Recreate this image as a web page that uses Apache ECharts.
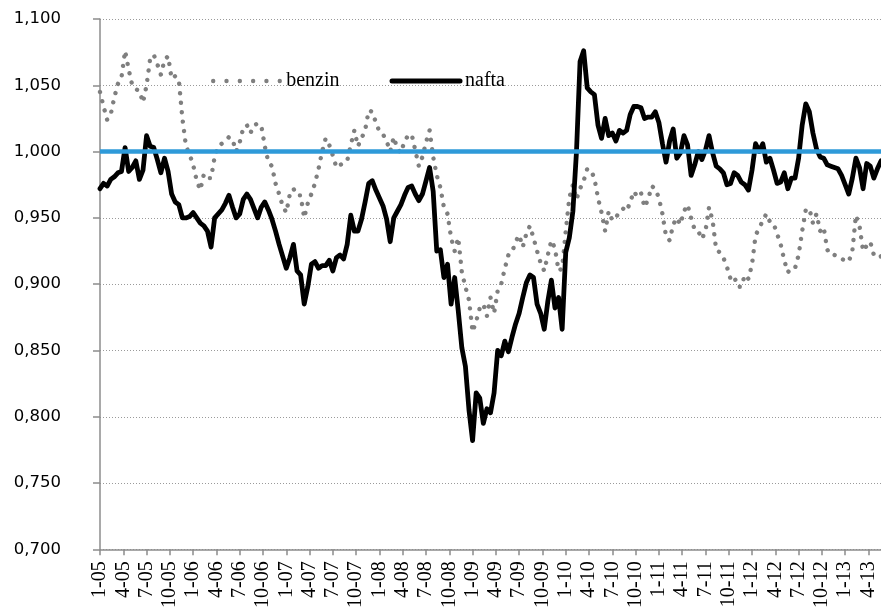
<!DOCTYPE html>
<html>
<head>
<meta charset="utf-8">
<script src="https://cdn.jsdelivr.net/npm/echarts@6/dist/echarts.min.js"></script>
<style>
html,body{margin:0;padding:0;background:#fff;}
#box{width:881px;height:611px;}
</style>
</head>
<body>
<div id="box"></div>
<script>
// popisky osy x - zacatek ctvrtleti
var quarterLabels = ['1-05','4-05','7-05','10-05','1-06','4-06','7-06','10-06',
	'1-07','4-07','7-07','10-07','1-08','4-08','7-08','10-08',
	'1-09','4-09','7-09','10-09','1-10','4-10','7-10','10-10',
	'1-11','4-11','7-11','10-11','1-12','4-12','7-12','10-12',
	'1-13','4-13'];

var weekStep = 2;      // hodnoty po dvou tydnech
var weeksPerQuarter = 13;
var lastWeek = 436;
var parityLevel = 1.0; // modra cara

// benzin (tydny 0,2,4,...)
var benzin = [
	1.045,1.034,1.024,1.028,1.041,1.051,1.056,1.076,1.062,1.050,
	1.047,1.046,1.037,1.050,1.070,1.073,1.066,1.058,1.069,1.072,
	1.055,1.057,1.054,1.025,1.004,0.998,0.990,0.978,0.971,0.983,
	0.980,0.980,0.996,1.004,1.006,1.008,1.011,1.009,1.000,1.007,
	1.018,1.020,1.014,1.020,1.021,1.020,1.004,0.992,0.989,0.976,
	0.968,0.959,0.954,0.968,0.972,0.967,0.967,0.950,0.961,0.968,
	0.976,0.987,1.000,1.010,1.005,0.997,0.988,0.990,0.991,0.993,
	1.005,1.016,1.004,1.010,1.016,1.031,1.030,1.022,1.015,1.013,
	1.008,1.000,1.011,1.002,0.999,1.008,1.012,1.013,1.001,0.989,
	0.996,1.007,1.016,0.996,0.982,0.973,0.958,0.953,0.935,0.925,
	0.935,0.909,0.898,0.888,0.864,0.872,0.882,0.885,0.876,0.890,
	0.878,0.895,0.900,0.912,0.922,0.924,0.932,0.937,0.928,0.938,
	0.944,0.935,0.925,0.916,0.910,0.922,0.933,0.927,0.910,0.912,
	0.940,0.965,0.975,0.964,0.972,0.978,0.987,0.986,0.980,0.965,
	0.954,0.940,0.955,0.948,0.950,0.955,0.957,0.955,0.962,0.970,
	0.966,0.969,0.958,0.964,0.974,0.972,0.965,0.953,0.936,0.933,
	0.945,0.950,0.945,0.955,0.960,0.950,0.941,0.940,0.934,0.940,
	0.958,0.948,0.926,0.924,0.920,0.913,0.904,0.906,0.898,0.898,
	0.907,0.904,0.915,0.937,0.942,0.948,0.953,0.947,0.946,0.938,
	0.930,0.918,0.909,0.912,0.912,0.922,0.940,0.956,0.957,0.946,
	0.953,0.940,0.943,0.926,0.922,0.922,0.921,0.919,0.918,0.917,
	0.925,0.952,0.944,0.925,0.929,0.932,0.922,0.920,0.921
];

// nafta (tydny 0,2,4,...)
var nafta = [
	0.972,0.976,0.974,0.979,0.981,0.984,0.985,1.003,0.985,0.988,
	0.993,0.979,0.986,1.012,1.004,1.003,0.994,0.984,0.995,0.985,
	0.968,0.962,0.960,0.950,0.950,0.951,0.954,0.950,0.946,0.944,
	0.940,0.928,0.950,0.953,0.956,0.961,0.967,0.958,0.950,0.953,
	0.964,0.968,0.964,0.957,0.950,0.958,0.962,0.956,0.949,0.940,
	0.930,0.921,0.912,0.920,0.930,0.910,0.907,0.885,0.898,0.915,
	0.917,0.912,0.914,0.914,0.918,0.910,0.920,0.922,0.919,0.930,
	0.952,0.940,0.940,0.949,0.962,0.976,0.978,0.971,0.965,0.959,
	0.949,0.932,0.950,0.955,0.960,0.967,0.973,0.974,0.968,0.963,
	0.968,0.978,0.988,0.970,0.925,0.926,0.905,0.915,0.885,0.905,
	0.880,0.852,0.838,0.805,0.782,0.818,0.814,0.795,0.806,0.803,
	0.818,0.850,0.846,0.857,0.849,0.860,0.870,0.878,0.890,0.901,
	0.907,0.905,0.885,0.878,0.866,0.887,0.903,0.882,0.890,0.866,
	0.924,0.935,0.955,1.000,1.068,1.076,1.048,1.045,1.043,1.020,
	1.010,1.025,1.012,1.014,1.008,1.016,1.014,1.016,1.028,1.034,
	1.034,1.033,1.025,1.026,1.026,1.030,1.022,1.006,0.992,1.008,
	1.017,0.995,0.999,1.012,1.005,0.982,0.990,1.000,0.994,1.001,
	1.012,0.999,0.989,0.987,0.984,0.975,0.976,0.984,0.982,0.977,
	0.975,0.971,0.986,1.006,1.000,1.006,0.992,0.995,0.986,0.976,
	0.977,0.984,0.972,0.980,0.980,0.995,1.020,1.036,1.030,1.014,
	1.002,0.996,0.995,0.990,0.989,0.988,0.987,0.982,0.975,0.968,
	0.980,0.995,0.988,0.972,0.991,0.989,0.980,0.987,0.993
];

function toPairs(list){
	var out = [];
	for (var i = 0; i < list.length; i++) {
		out.push([i * weekStep, list[i]]);
	}
	return out;
}

var myChart = echarts.init(document.getElementById('box'));
var option = {
	animation: false,
	grid: {left: 100, right: 0, top: 19, bottom: 59},
	legend: {
		left: 206,
		top: 66,
		itemWidth: 68,
		itemHeight: 14,
		itemGap: 50,
		itemStyle: {opacity: 0},
		textStyle: {fontFamily: 'Liberation Serif', fontSize: 20, color: '#000'},
		data: [
			{name: 'benzin', lineStyle: {type: [0.01, 13.3], cap: 'round', width: 4.4}},
			{name: 'nafta', lineStyle: {cap: 'round', width: 5}}
		]
	},
	xAxis: {
		type: 'value',
		min: 0,
		max: lastWeek,
		interval: weeksPerQuarter,
		splitLine: {show: false},
		axisLine: {lineStyle: {color: '#8c8c8c', width: 1.5}},
		axisTick: {length: 6, lineStyle: {color: '#8c8c8c', width: 1.5}},
		axisLabel: {
			rotate: 90,
			margin: 12,
			fontFamily: 'Liberation Serif',
			fontSize: 20,
			color: '#000',
			showMaxLabel: false,
			formatter: function (v) {
				if (v % weeksPerQuarter !== 0) return '';
				return quarterLabels[v / weeksPerQuarter] || '';
			}
		}
	},
	yAxis: {
		type: 'value',
		min: 0.7,
		max: 1.1,
		interval: 0.05,
		axisLine: {show: true, lineStyle: {color: '#8c8c8c', width: 1.5}},
		axisTick: {show: true, length: 7, lineStyle: {color: '#8c8c8c', width: 1.5}},
		splitLine: {lineStyle: {color: '#9a9a9a', width: 1, type: [1, 2]}},
		axisLabel: {
			margin: 39,
			fontFamily: 'DejaVu Sans',
			fontSize: 16.5,
			color: '#000',
			formatter: function (v) {
				return v.toFixed(3).replace('.', ',');
			}
		}
	},
	series: [
		{
			name: 'benzin',
			type: 'line',
			showSymbol: false,
			symbol: 'none',
			data: toPairs(benzin),
			// kulate tecky
			lineStyle: {color: '#7f7f7f', width: 4.4, type: [0.01, 9.5], cap: 'round', join: 'round'},
			itemStyle: {color: '#7f7f7f'}
		},
		{
			name: 'nafta',
			type: 'line',
			showSymbol: false,
			symbol: 'none',
			data: toPairs(nafta),
			lineStyle: {color: '#000', width: 4.8, cap: 'round', join: 'round'},
			itemStyle: {color: '#000'}
		},
		{
			name: 'parita',
			type: 'line',
			showSymbol: false,
			symbol: 'none',
			silent: true,
			data: [[0, parityLevel], [lastWeek, parityLevel]],
			lineStyle: {color: '#2e9ad9', width: 4.5}
		}
	]
};
myChart.setOption(option, true);
</script>
</body>
</html>
